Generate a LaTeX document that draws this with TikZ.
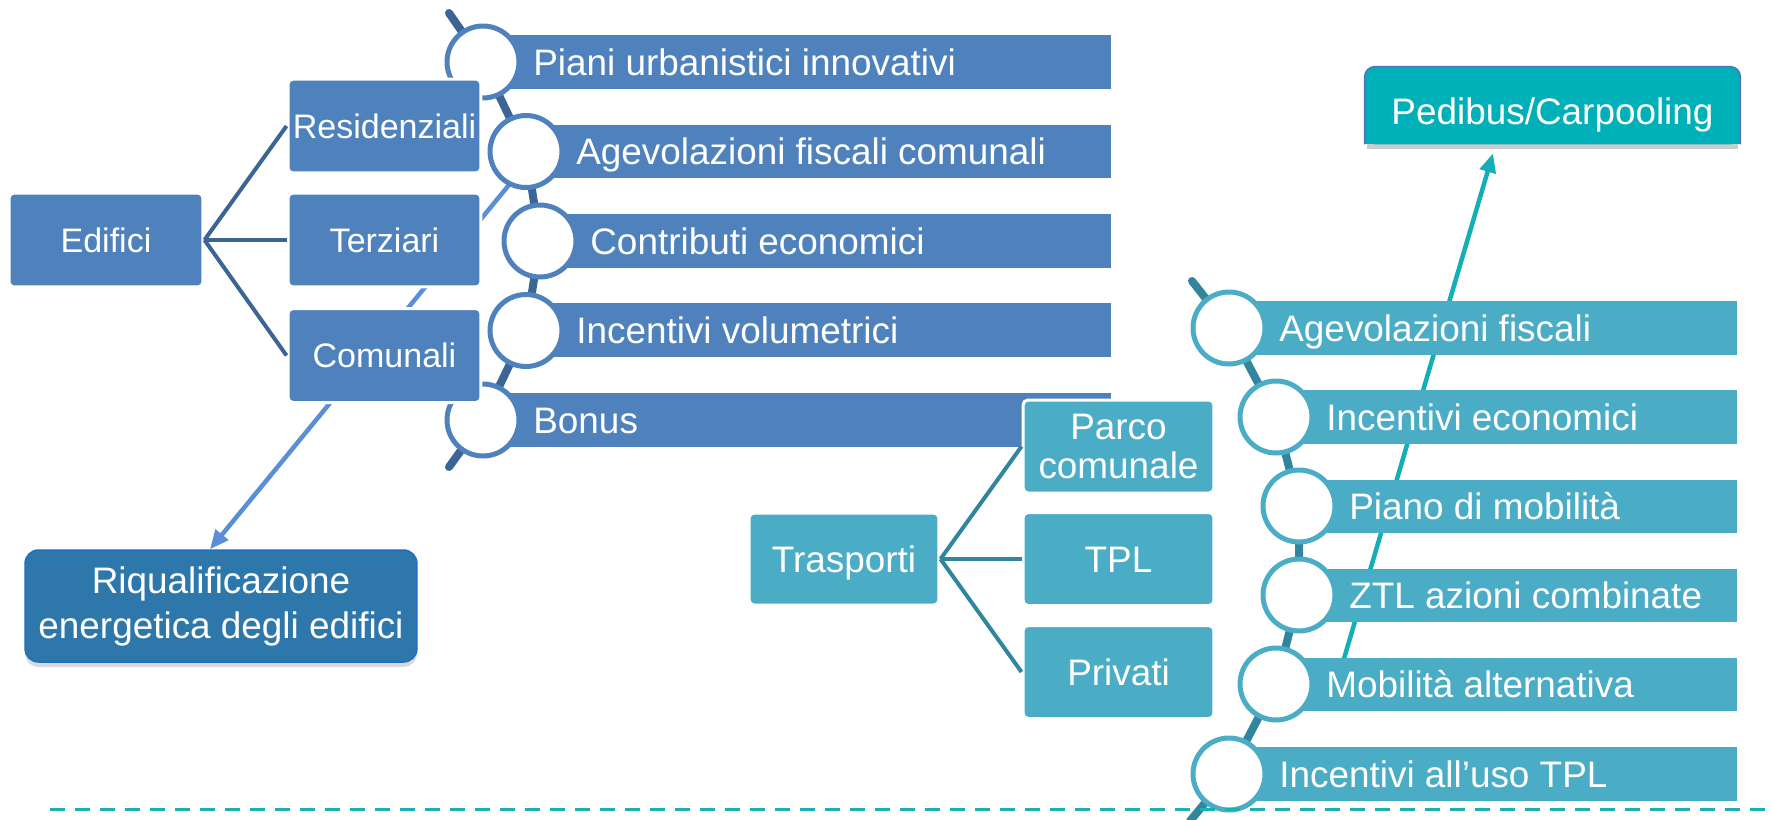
\documentclass[tikz,border=0pt]{standalone}
\usepackage{fontspec}
\setmainfont{Liberation Sans}
\usetikzlibrary{arrows.meta,shadows,backgrounds}

\definecolor{barblue}{HTML}{4F81BD}
\definecolor{spineblue}{HTML}{3B6594}
\definecolor{barteal}{HTML}{4BACC6}
\definecolor{spineteal}{HTML}{31869D}
\definecolor{arrowblue}{HTML}{5A8FD8}
\definecolor{arrowteal}{HTML}{14AFB6}
\definecolor{riqblue}{HTML}{2E77AA}
\definecolor{riqline}{HTML}{1F6FBF}
\definecolor{pedteal}{HTML}{00B0B9}
\definecolor{pedline}{HTML}{5470B8}
\definecolor{dashteal}{HTML}{1BB0B4}

\newcommand{\barfont}{\fontsize{21}{22.2}\selectfont}
\newcommand{\boxfont}{\fontsize{19.35}{23}\selectfont}
\newcommand{\riqfont}{\fontsize{21}{25.6}\selectfont}

\begin{document}
\begin{tikzpicture}[x=0.02cm, y=-0.02cm,
    box/.style={rectangle, rounded corners=0.1cm, draw=white, line width=0.06cm, text=white, inner sep=0.05cm},
    leftbox/.style={box, fill=barblue, font=\boxfont, minimum width=3.86cm, minimum height=1.88cm, text height=0.65cm, text depth=0.16cm},
    rightbox/.style={box, fill=barteal, font=\barfont, minimum width=3.82cm, minimum height=1.86cm},
    oneline/.style={text height=0.70cm, text depth=0.17cm},
    ring/.style={circle, fill=white, line width=0.1cm, minimum size=1.44cm, inner sep=0pt},
    spine/.style={line width=0.16cm, line cap=round},
    link/.style={line width=0.08cm},
    bartext/.style={anchor=base west, text=white, font=\barfont, inner sep=0pt},
    goal/.style={line width=0.09cm, -{Triangle[length=0.38cm, width=0.32cm]}}]

    \useasboundingbox (0,0) rectangle (1772,819);

    % target boxes
    \node[rectangle, rounded corners=0.27cm, fill=riqblue, draw=riqline, line width=0.03cm, text=white, font=\riqfont, align=center,
          minimum width=7.84cm, minimum height=2.24cm, inner sep=0.05cm,
          drop shadow={opacity=0.3, shadow xshift=0cm, shadow yshift=-0.1cm}] (riq) at (221,606) {Riqualificazione\\energetica degli edifici};
    \node[rectangle, text=white, font=\barfont, minimum width=7.5cm, minimum height=1.54cm, inner sep=0pt,
          text height=0.955cm, text depth=0.185cm] (ped) at (1552.5,105.5) {Pedibus/Carpooling};
    \begin{scope}[on background layer]
        \fill[black!20] ([xshift=0.05cm, yshift=-0.1cm]ped.south west) rectangle ([xshift=-0.05cm]ped.east);
        \fill[pedteal, rounded corners=0.2cm] (ped.south west) rectangle (ped.north east);
        \fill[pedteal] (ped.south west) rectangle (ped.east);
        \draw[pedline, line width=0.03cm] (ped.south west) [rounded corners=0.2cm] -- (ped.north west) -- (ped.north east) -- (ped.south east);
    \end{scope}

    % arrows behind the bars
    \coordinate (riqstart) at (536,152);
    \coordinate (pedstart) at (1343,662);
    \draw[goal, arrowblue] (riqstart) -- ([xshift=-0.22cm]riq.north);
    \draw[goal, arrowteal] (pedstart) -- ([xshift=-1.19cm, yshift=-0.18cm]ped.south);

    % left chain
    \coordinate (ltop) at (449,13);
    \coordinate (lc1) at (483,62);
    \coordinate (lc2) at (526,151.5);
    \coordinate (lc3) at (540,241);
    \coordinate (lc4) at (526,330.5);
    \coordinate (lc5) at (483,420);
    \coordinate (lbot) at (449,467);
    \draw[spine, spineblue] (ltop) -- (lc1) -- (lc2) -- (lc3) -- (lc4) -- (lc5) -- (lbot);

    \fill[barblue] (483,35) rectangle (1111,89);
    \fill[barblue] (526,125) rectangle (1111,178);
    \fill[barblue] (540,214) rectangle (1111,268);
    \fill[barblue] (526,303) rectangle (1111,357);
    \fill[barblue] (483,393) rectangle (1111,447);

    \node[bartext] (piani) at (533,75) {Piani urbanistici innovativi};
    \node[bartext] (agevc) at (576,164.5) {Agevolazioni fiscali comunali};
    \node[bartext] (contr) at (590,254) {Contributi economici};
    \node[bartext] (volum) at (576,343.5) {Incentivi volumetrici};
    \node[bartext] (bonus) at (533,433) {Bonus};

    \node[ring, draw=barblue] (lr1) at (lc1) {};
    \node[ring, draw=barblue] (lr2) at (lc2) {};
    \node[ring, draw=barblue] (lr3) at (lc3) {};
    \node[ring, draw=barblue] (lr4) at (lc4) {};
    \node[ring, draw=barblue] (lr5) at (lc5) {};

    % right chain
    \coordinate (rtop) at (1192,281);
    \coordinate (rc1) at (1229,328);
    \coordinate (rc2) at (1276,417);
    \coordinate (rc3) at (1299,506);
    \coordinate (rc4) at (1299,595);
    \coordinate (rc5) at (1276,684);
    \coordinate (rc6) at (1229,774);
    \coordinate (rbot) at (1190,821);
    \draw[spine, spineteal] (rtop) -- (rc1) -- (rc2) -- (rc3) -- (rc4) -- (rc5) -- (rc6) -- (rbot);

    \fill[barteal] (1229,301) rectangle (1737,355);
    \fill[barteal] (1276,390) rectangle (1737,444);
    \fill[barteal] (1299,480) rectangle (1737,533);
    \fill[barteal] (1299,569) rectangle (1737,622);
    \fill[barteal] (1276,658) rectangle (1737,711);
    \fill[barteal] (1229,747) rectangle (1737,801);

    \node[bartext] (agevf) at (1279,341) {Agevolazioni fiscali};
    \node[bartext] (ineco) at (1326,430) {Incentivi economici};
    \node[bartext] (pmob) at (1349,519) {Piano di mobilità};
    \node[bartext] (ztl) at (1349,608) {ZTL azioni combinate};
    \node[bartext] (malt) at (1326,697) {Mobilità alternativa};
    \node[bartext] (itpl) at (1279,787) {Incentivi all’uso TPL};

    \node[ring, draw=barteal] (rr1) at (rc1) {};
    \node[ring, draw=barteal] (rr2) at (rc2) {};
    \node[ring, draw=barteal] (rr3) at (rc3) {};
    \node[ring, draw=barteal] (rr4) at (rc4) {};
    \node[ring, draw=barteal] (rr5) at (rc5) {};
    \node[ring, draw=barteal] (rr6) at (rc6) {};

    % trees
    \node[leftbox, minimum width=3.88cm] (edifici) at (106,240) {Edifici};
    \node[leftbox] (resid) at (384.5,126) {Residenziali};
    \node[leftbox] (terz) at (384.5,240) {Terziari};
    \node[leftbox] (comun) at (384.5,355.5) {Comunali};

    \node[rightbox, oneline, minimum width=3.8cm, minimum height=1.84cm] (trasp) at (844,559) {Trasporti};
    \node[rightbox, align=center] (parco) at (1118.5,446.5) {Parco\\comunale};
    \node[rightbox, oneline] (tpl) at (1118.5,559) {TPL};
    \node[rightbox, oneline] (priv) at (1118.5,672) {Privati};

    \draw[link, spineblue] (edifici.east) -- (resid.west);
    \draw[link, spineblue] (edifici.east) -- (terz.west);
    \draw[link, spineblue] (edifici.east) -- (comun.west);
    \draw[link, spineteal] (trasp.east) -- (parco.west);
    \draw[link, spineteal] (trasp.east) -- (tpl.west);
    \draw[link, spineteal] (trasp.east) -- (priv.west);

    \draw[dashteal, line width=0.06cm, dash pattern=on 0.3cm off 0.2cm] (50,809) -- (1772,809);
\end{tikzpicture}
\end{document}
